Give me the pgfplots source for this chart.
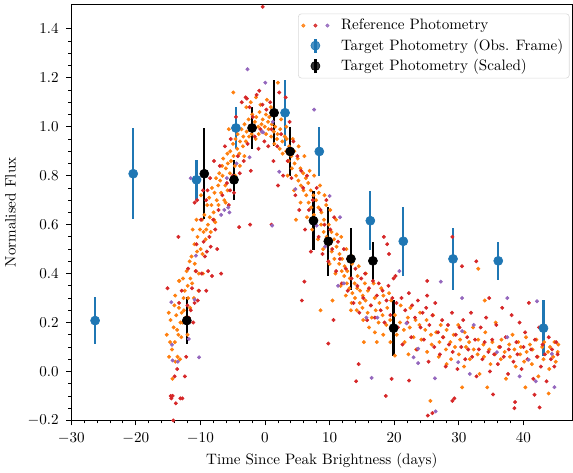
\documentclass[border=0pt]{standalone}
\usepackage{pgfplots}
\pgfplotsset{compat=1.18}
\usepackage{pgfplotstable}
\definecolor{mplorange}{HTML}{FF7F0E}
\definecolor{mplred}{HTML}{D62728}
\definecolor{mplpurple}{HTML}{9467BD}
\definecolor{mplblue}{HTML}{1F77B4}

\pgfplotstableread{
x y e
-26.3 0.208 0.097
-20.4 0.808 0.185
-10.6 0.783 0.081
-4.5 0.995 0.087
3.1 1.057 0.135
8.4 0.899 0.100
16.3 0.616 0.120
21.4 0.532 0.140
29.1 0.460 0.127
36.1 0.452 0.078
43.1 0.177 0.115
}\obsframe

\pgfplotstableread{
x y e
-12.1 0.208 0.097
-9.4 0.808 0.185
-4.8 0.783 0.081
-2.0 0.995 0.087
1.4 1.057 0.135
3.9 0.899 0.100
7.5 0.616 0.120
9.8 0.532 0.140
13.3 0.460 0.127
16.7 0.452 0.078
19.9 0.177 0.115
}\scaled

\begin{document}
\begin{tikzpicture}
\begin{axis}[
  scale only axis,
  width=332pt, height=275.5pt,
  xmin=-30, xmax=47.6,
  ymin=-0.2, ymax=1.5,
  xtick={-30,-20,-10,0,10,20,30,40},
  ytick={-0.2,0,0.2,0.4,0.6,0.8,1.0,1.2,1.4},
  minor x tick num=4,
  minor y tick num=3,
  xtick pos=bottom, ytick pos=left,
  tick align=outside,
  major tick length=3.3pt,
  minor tick length=1.9pt,
  every tick/.style={black, line width=0.5pt},
  axis line style={line width=0.6pt},
  yticklabel style={xshift=-1.5pt, /pgf/number format/.cd, fixed, fixed zerofill, precision=1},
  xticklabel style={yshift=-1.5pt},
  xlabel={Time Since Peak Brightness (days)},
  ylabel={Normalised Flux},
  xlabel style={yshift=1pt},
  ylabel style={yshift=1pt},
  legend cell align=left,
  legend style={at={(0.994,0.978)}, anchor=north east, draw=black!15, rounded corners=2pt, fill=white, fill opacity=0.8, text opacity=1, row sep=0.5pt, inner xsep=2pt, inner ysep=1.5pt},
]
% Reference photometry: orange
\addplot[only marks, mark=*, mark size=1.1pt, color=mplorange, forget plot] coordinates {
(-15.2,0.15)(-14.85,0.06)(-14.7,0.12)(-14.62,0.21)(-14.4,0.09)(-14.33,-0.03)(-14.15,0.18)(-14.02,0.27)(-13.96,0.12)(-13.87,0.04)(-13.74,0.23)(-13.6,0.17)(-13.55,0.06)(-13.41,0.15)(-13.32,0.26)(-13.25,0.37)(-13.15,0.05)(-13.08,0.2)(-12.95,0.14)(-12.9,0.24)(-12.77,0.2)(-12.61,0.3)(-12.55,0.25)(-12.42,0.33)(-12.31,0.22)(-12.14,0.41)(-11.97,0.35)(-11.9,0.3)(-11.66,0.45)(-11.55,0.38)(-11.38,0.47)(-11.27,0.36)(-10.93,0.52)(-10.88,0.44)(-10.73,0.41)(-10.52,0.49)(-10.45,0.55)(-10.25,0.4)(-10.06,0.58)(-9.97,0.5)(-9.74,0.62)(-9.68,0.48)(-9.51,0.57)(-9.38,0.64)(-9.19,0.54)(-8.95,0.68)(-8.83,0.6)(-8.64,0.71)(-8.56,0.63)(-8.29,0.68)(-8.21,0.75)(-7.96,0.65)(-7.82,0.73)(-7.58,0.79)(-7.47,0.7)(-7.25,0.76)(-7.09,0.81)
(-14.9,0.24)(-13.9,0.31)(-12.7,0.38)(-12.0,0.15)(-11.6,0.26)(-11.0,0.3)(-10.3,0.33)(-9.6,0.4)(-9.9,0.72)(-10.6,0.62)(-11.2,0.58)
(-6.93,0.78)(-6.64,0.84)(-6.58,0.8)(-6.47,0.87)(-6.14,0.76)(-6.05,0.83)(-5.83,0.89)(-5.76,0.85)(-5.44,0.81)(-5.38,0.9)(-5.27,0.86)(-4.95,0.93)(-4.87,0.88)(-4.66,0.84)(-4.57,0.95)(-4.31,0.91)(-4.24,0.97)(-3.97,0.89)(-3.86,0.94)(-3.64,0.99)(-3.42,0.92)(-3.35,0.96)(-3.17,1.01)(-2.96,0.94)(-2.84,0.98)(-2.55,1.03)(-2.47,0.96)(-2.34,1.0)(-2.06,0.97)(-1.97,1.05)(-1.83,0.99)(-1.56,1.02)(-1.45,0.95)(-1.35,1.04)(-1.04,1.0)(-0.97,0.97)(-0.84,1.06)(-0.55,1.01)(-0.47,0.98)(-0.36,1.03)(-0.05,1.0)(0.14,1.05)(0.16,0.97)(0.47,1.02)(0.55,0.99)(0.66,1.04)(0.95,0.96)(1.05,1.01)(1.36,0.98)(1.44,0.93)(1.57,1.0)(1.86,0.95)(1.94,0.97)(2.27,0.91)(2.35,0.99)(2.68,0.94)(2.73,0.89)(3.05,0.96)
(-8.4,0.57)(-7.7,0.61)(-7.2,0.68)(-6.8,0.73)(-6.1,0.69)(-5.8,0.74)(-5.1,0.78)(-4.6,0.8)(-3.9,0.84)(-3.2,0.88)(-2.9,1.08)(-2.2,1.1)(-1.4,1.12)(-0.7,1.09)(0.3,1.11)(0.9,1.08)(1.7,1.06)(2.5,1.03)(3.3,1.0)(4.3,0.95)(5.2,0.92)(6.1,0.88)(6.9,0.82)(7.6,0.8)(8.5,0.76)(9.2,0.72)(10.1,0.66)(11.0,0.62)(11.8,0.55)(12.6,0.5)(13.5,0.47)(14.5,0.43)(15.6,0.4)(16.8,0.36)(18.0,0.34)(19.2,0.32)
(3.5,0.8)(4.5,0.74)(5.5,0.69)(6.5,0.63)(7.3,0.58)(8.2,0.54)(9.0,0.5)(10.0,0.44)(10.9,0.4)(11.7,0.35)(12.5,0.31)(13.4,0.28)(14.2,0.25)(15.2,0.21)(16.1,0.18)(17.0,0.16)(18.3,0.15)(19.4,0.12)
(-4.9,1.14)(2.0,1.18)(-5.6,0.99)(-6.3,0.7)(-7.9,0.62)(-9.1,0.58)(-13.3,0.37)
(3.27,0.9)(3.35,0.95)(3.68,0.86)(3.74,0.92)(4.09,0.88)(4.15,0.83)(4.52,0.9)(4.58,0.85)(4.81,0.8)(5.06,0.87)(5.17,0.78)(5.49,0.83)(5.55,0.76)(5.92,0.81)(5.96,0.74)(6.31,0.79)(6.38,0.72)(6.7,0.77)(6.76,0.69)(7.08,0.74)(7.15,0.67)(7.49,0.72)(7.56,0.64)(7.9,0.7)(7.93,0.62)(8.27,0.67)(8.33,0.73)(8.69,0.6)(8.74,0.65)(9.08,0.57)(9.13,0.62)(9.47,0.68)(9.53,0.55)(9.87,0.6)(9.94,0.52)(10.28,0.57)(10.33,0.49)(10.69,0.54)(10.74,0.46)(11.07,0.51)(11.12,0.56)(11.48,0.44)(11.53,0.48)(11.88,0.41)(11.93,0.46)(12.27,0.39)(12.32,0.43)(12.68,0.36)(12.74,0.41)(13.06,0.34)(13.13,0.38)(13.47,0.44)(13.52,0.32)(13.87,0.36)(13.93,0.3)(14.28,0.34)(14.33,0.39)(14.67,0.28)(14.72,0.33)(15.08,0.26)(15.13,0.31)(15.46,0.36)(15.54,0.29)(15.88,0.24)(15.93,0.33)(16.37,0.27)(16.52,0.22)(16.98,0.3)(17.13,0.25)(17.58,0.2)(17.71,0.28)(18.19,0.23)(18.33,0.31)(18.78,0.19)(18.92,0.26)(19.38,0.21)(19.52,0.29)(19.95,0.17)
(4.8,0.62)(8.6,0.25)(10.45,0.29)(13.3,0.25)(15.3,0.12)(17.3,0.12)(20.1,0.065)(22.2,0.07)(28.1,0.03)(25.6,-0.12)(30.5,-0.065)(34.4,-0.065)(40.3,-0.065)(43.9,-0.09)(34.0,0.29)(33.0,0.42)
(20.1,0.23)(20.4,0.15)(20.9,0.2)(21.0,0.27)(21.5,0.17)(21.6,0.12)(22.1,0.22)(22.4,0.18)(22.5,0.26)(23.0,0.14)(23.3,0.21)(23.4,0.09)(23.9,0.19)(24.0,0.24)(24.2,0.13)(24.8,0.17)(25.0,0.21)(25.1,0.08)(25.7,0.15)(25.8,0.11)(26.0,0.23)(26.5,0.16)(26.9,0.06)(27.0,0.12)(27.2,0.19)(27.6,0.14)(28.0,0.09)(28.1,0.17)(28.7,0.12)(28.8,0.05)(29.2,0.15)(29.4,0.1)(29.9,0.19)(30.0,0.07)(30.2,0.13)(30.8,0.02)(30.9,0.16)(31.1,0.1)(31.6,0.12)(31.7,0.05)(32.2,0.18)(32.3,0.09)(32.9,0.07)(33.0,0.13)(33.2,-0.01)(33.8,0.11)(33.9,0.06)(34.1,0.16)(34.7,0.09)(34.9,0.03)(35.2,0.12)(35.6,0.07)(35.7,0.2)(36.2,0.1)(36.5,0.05)(36.6,0.13)(37.1,0.08)(37.3,-0.03)(37.8,0.11)(37.9,0.06)(38.3,0.15)(38.6,0.09)(38.8,0.02)(39.2,0.12)(39.5,0.07)(39.6,0.1)(40.1,0.04)(40.4,0.14)(40.5,0.08)(41.0,0.11)(41.3,0.03)(41.4,0.09)(42.0,0.13)(42.2,0.06)(42.3,-0.02)(42.9,0.1)(43.1,0.05)(43.2,0.12)(43.8,0.08)(44.0,0.01)(44.1,0.1)(44.6,0.06)(44.8,0.12)(45.0,0.04)(45.3,0.08)(45.4,0.11)
};
% Reference photometry: red
\addplot[only marks, mark=*, mark size=1.1pt, color=mplred, forget plot] coordinates {
(-15.1,0.34)(-14.6,-0.1)(-14.5,-0.11)(-14.3,-0.1)(-14.0,-0.02)(-13.8,-0.13)(-13.6,0.01)(-13.3,0.28)(-14.2,-0.2)(-13.1,-0.11)(-12.8,-0.11)(-12.4,-0.02)(-12.2,0.06)(-12.0,0.27)(-11.8,0.22)(-11.5,0.25)(-11.3,0.34)(-11.1,0.2)(-10.9,0.28)(-10.7,0.41)(-10.4,0.29)(-10.2,0.33)(-9.8,0.4)(-9.5,0.53)(-9.3,0.47)(-9.1,0.33)(-9.0,0.49)(-8.8,0.41)(-8.6,0.55)(-8.4,0.51)(-8.2,0.39)(-8.0,0.62)(-7.7,0.58)(-7.4,0.5)(-7.2,0.66)(-6.8,0.4)(-13.4,0.55)(-12.9,0.33)(-11.9,0.42)(-10.6,0.52)(-9.9,0.62)(-9.1,0.7)(-8.9,0.74)(-8.5,0.79)(-10.9,0.69)(-10.5,0.7)(-9.6,0.74)
(-7.9,0.86)(-7.0,0.84)(-6.6,0.72)(-6.2,0.92)(-5.9,0.77)(-5.6,0.68)(-5.3,0.95)(-5.0,0.8)(-4.8,0.73)(-4.5,1.04)(-4.2,0.88)(-3.9,0.81)(-3.6,1.1)(-3.3,0.86)(-3.0,1.12)(-2.7,0.93)(-2.4,1.08)(-2.2,0.82)(-1.9,1.04)(-1.6,0.96)(-1.3,1.13)(-1.0,0.91)(-0.7,0.99)(-0.4,1.09)(-0.1,0.94)(-0.36,1.49)(0.2,1.07)(0.5,0.92)(0.8,1.1)(1.0,0.99)(1.3,0.86)(1.6,1.05)(1.9,0.92)(2.2,1.14)(2.5,0.97)(2.8,0.8)(-4.0,0.59)(-2.3,0.6)(1.0,0.6)(2.0,0.76)(-5.4,0.74)(-0.9,1.147)(-2.8,1.115)
(3.2,1.12)(3.5,0.86)(3.8,1.02)(4.1,0.79)(4.4,0.94)(4.7,0.72)(5.0,0.88)(5.3,0.66)(5.6,0.82)(5.9,0.75)(6.2,0.58)(6.5,0.8)(6.8,0.66)(7.1,0.49)(7.4,0.7)(7.7,0.61)(8.0,0.75)(8.3,0.55)(8.6,0.66)(8.9,0.48)(9.2,0.6)(9.5,0.7)(9.8,0.45)(10.1,0.58)(10.4,0.5)(10.7,0.63)(11.0,0.41)(11.3,0.53)(11.6,0.46)(11.9,0.36)(12.2,0.5)(12.5,0.42)(12.8,0.33)(13.1,0.46)(13.4,0.38)(13.7,0.28)(14.0,0.42)(14.3,0.35)(14.6,0.24)(14.9,0.38)(15.2,0.3)(15.5,0.4)(15.8,0.21)(16.1,0.34)(16.4,0.27)(16.7,0.37)(17.0,0.22)(17.3,0.31)(17.6,0.36)(17.9,0.25)(18.2,0.33)(18.5,0.2)(18.8,0.29)(19.1,0.35)(19.4,0.23)(19.7,0.3)
(6.1,0.367)(5.7,0.29)(10.6,0.21)(9.8,0.114)(14.5,0.03)(14.1,-0.04)(18.7,-0.1)(19.6,-0.03)(22.3,-0.037)(25.2,-0.18)(25.9,-0.17)(29.3,-0.11)(29.0,-0.12)(35.3,-0.094)(38.7,-0.125)(38.6,-0.15)(41.7,-0.095)(42.5,-0.147)(25.1,0.31)(34.7,0.3)(32.7,0.45)(30.5,0.43)(25.1,0.37)(29.0,0.55)(18.4,0.55)(18.9,0.52)(19.2,0.48)(19.9,0.38)(20.2,0.39)
(20.35,0.28)(20.56,0.18)(21.12,0.3)(21.28,0.11)(21.71,0.25)(22.02,0.2)(22.26,0.32)(22.63,0.14)(22.77,0.27)(23.21,0.22)(23.52,0.09)(23.66,0.29)(24.07,0.18)(24.39,0.24)(24.58,0.13)(24.95,0.26)(25.31,0.04)(25.44,0.19)(25.92,0.23)(26.2,0.1)(26.35,0.28)(26.78,0.16)(27.06,0.07)(27.41,0.21)(27.55,0.14)(27.97,0.02)(28.33,0.19)(28.46,0.11)(28.93,0.24)(29.05,0.08)(29.53,0.15)(29.78,0.01)(30.11,0.18)(30.38,0.1)(30.67,0.21)(31.0,0.05)(31.29,0.14)(31.45,0.09)(31.88,0.24)(32.06,0.06)(32.51,0.13)(32.73,-0.02)(33.1,0.09)(33.38,0.18)(33.64,0.05)(34.0,0.12)(34.23,0.22)(34.58,0.08)(34.81,0.0)(35.16,0.13)(35.47,0.07)(35.8,0.19)(36.04,0.03)(36.38,0.1)(36.71,0.26)(36.95,0.06)(37.25,0.14)(37.61,-0.01)(37.73,0.09)(38.17,0.23)(38.45,0.04)(38.9,0.12)(39.07,0.07)(39.4,0.2)(39.71,0.01)(40.0,0.1)(40.26,0.16)(40.62,0.05)(40.84,0.28)(41.18,0.09)(41.52,-0.03)(41.78,0.13)(42.09,0.06)(42.41,0.18)(42.7,0.02)(42.96,0.11)(43.33,0.07)(43.58,-0.04)(43.91,0.14)(44.25,0.05)(44.43,0.09)(44.77,0.02)(45.05,0.12)(45.28,0.07)
};
% Reference photometry: purple
\addplot[only marks, mark=*, mark size=1.1pt, color=mplpurple, forget plot] coordinates {
(-14.5,0.283)(-14.4,0.109)(-14.3,0.045)(-13.5,0.04)(-10.7,0.473)(-10.9,0.294)(-11.8,0.133)(-10.2,0.058)(-6.8,0.64)(-6.3,0.66)(-5.7,0.67)(-11.5,0.79)(-5.5,0.65)(-4.4,0.85)(-2.4,0.875)(1.1,0.596)(2.2,0.816)(-2.7,1.235)(0.05,1.18)(-0.3,0.977)(-5.9,0.79)(-0.5,0.98)(1.2,1.02)
(4.7,0.745)(10.0,0.717)(11.6,0.63)(9.3,0.51)(7.6,1.07)(8.0,0.596)(12.2,0.36)(20.8,0.41)(27.2,0.367)(11.3,0.35)(15.7,0.22)(17.4,0.22)(21.9,0.197)(23.7,0.093)(23.7,0.034)(26.3,-0.028)(26.4,-0.163)(30.5,0.3)(30.5,0.165)(32.3,0.19)(29.9,0.038)(31.7,-0.01)(35.9,0.079)(37.5,0.3)(37.5,0.14)(39.4,-0.02)(40.8,0.048)(42.1,0.287)(41.9,-0.04)(44.4,0.072)(44.8,-0.064)(23.0,0.058)(16.5,-0.026)
};
% Target photometry (observed frame)
\addplot[only marks, mark=*, mark size=3.0pt, color=mplblue, forget plot,
  error bars/.cd, y dir=both, y explicit, error mark=none,
  error bar style={line width=1.5pt, color=mplblue}]
  table[x=x, y=y, y error=e] {\obsframe};
% Target photometry (scaled)
\addplot[only marks, mark=*, mark size=3.0pt, color=black, forget plot,
  error bars/.cd, y dir=both, y explicit, error mark=none,
  error bar style={line width=1.5pt, color=black}]
  table[x=x, y=y, y error=e] {\scaled};
% legend entries
\addlegendimage{legend image code/.code={
  \path (-0.03cm,0cm) (0.8cm,0cm);
  \fill[mplorange] (0cm,0cm) circle (1.1pt);
  \fill[mplred] (0.28cm,0cm) circle (1.1pt);
  \fill[mplpurple] (0.56cm,0cm) circle (1.1pt);}}
\addlegendentry{Reference Photometry}
\addlegendimage{legend image code/.code={
  \path (-0.03cm,0cm) (0.8cm,0cm);
  \draw[mplblue, line width=1.5pt] (0.28cm,-4.7pt) -- (0.28cm,4.7pt);
  \fill[mplblue] (0.28cm,0cm) circle (3.0pt);}}
\addlegendentry{Target Photometry (Obs. Frame)}
\addlegendimage{legend image code/.code={
  \path (-0.03cm,0cm) (0.8cm,0cm);
  \draw[black, line width=1.5pt] (0.28cm,-4.7pt) -- (0.28cm,4.7pt);
  \fill[black] (0.28cm,0cm) circle (3.0pt);}}
\addlegendentry{Target Photometry (Scaled)}
\end{axis}
\path (current bounding box.north) ++(0,2.6pt);
\end{tikzpicture}
\end{document}
